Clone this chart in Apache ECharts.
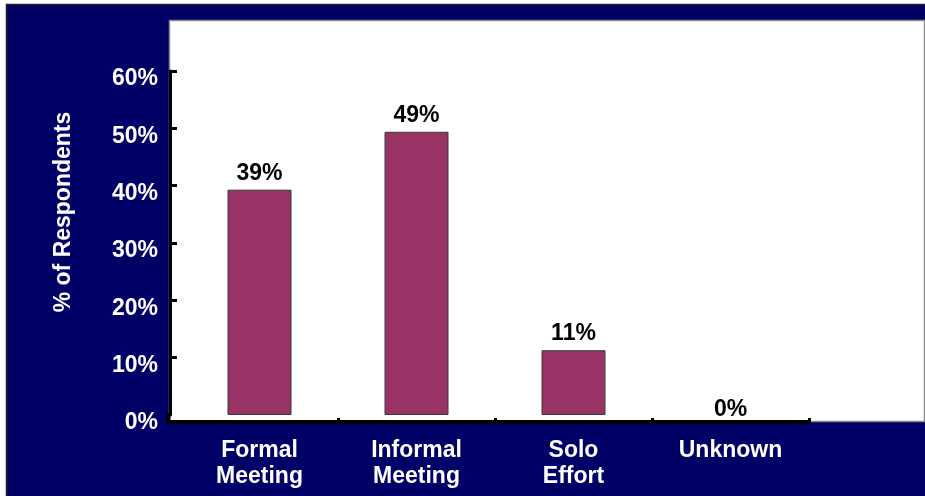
<!DOCTYPE html>
<html>
<head>
<meta charset="utf-8">
<script src="https://cdn.jsdelivr.net/npm/echarts@6/dist/echarts.min.js"></script>
<style>
  html, body { margin: 0; padding: 0; background: #fff; }
  #chart { width: 925px; height: 496px; }
</style>
</head>
<body>
<div id="chart"></div>
<script>
// values
var categories = ['Formal\nMeeting', 'Informal\nMeeting', 'Solo\nEffort', 'Unknown'];
var respondents = [39.3, 49.4, 11.3, 0];
var yTicks = [10, 20, 30, 40, 50, 60];

var FONT = 'Liberation Sans, Arial, sans-serif';
var NAVY = '#000066';

function buildOption() {
    var barData = respondents.map(function (v) {
        // the zero bar has no outline and its label sits down on the axis line
        if (v === 0) {
            return { value: v, itemStyle: { borderWidth: 0 }, label: { offset: [0, 11] } };
        }
        return v;
    });

    return {
        backgroundColor: '#fff',
        animation: false,
        grid: { left: 181, right: 116, top: 71, bottom: 81 },
        graphic: [
            {
                type: 'rect', z: -10, silent: true,
                shape: { x: 6.5, y: 4.5, width: 930, height: 500 },
                style: { fill: NAVY, stroke: '#222', lineWidth: 1.5 }
            },
            {
                type: 'rect', z: -9, silent: true,
                shape: { x: 169.5, y: 20.5, width: 755, height: 401 },
                style: { fill: '#fff', stroke: '#8a8a8a', lineWidth: 1.5 }
            },
            {
                // corner where the two axis lines meet
                type: 'polyline', z: 5, silent: true,
                shape: { points: [[168.5, 413], [168.5, 422], [182, 422]] },
                style: { stroke: '#000', lineWidth: 4, fill: null }
            },
            {
                type: 'text', z: 5, silent: true,
                x: 64, y: 212, rotation: Math.PI / 2,
                style: {
                    text: '% of Respondents', fill: '#fff',
                    font: 'bold 23px ' + FONT,
                    align: 'center', verticalAlign: 'middle'
                }
            }
        ],
        xAxis: {
            type: 'category',
            data: categories,
            offset: 7,
            axisLine: { show: true, onZero: false, lineStyle: { color: '#000', width: 4 } },
            axisTick: {
                show: true, inside: true, length: 4,
                interval: function (index) { return index !== 0; },
                lineStyle: { color: '#000', width: 3 }
            },
            axisLabel: {
                color: '#fff', fontWeight: 'bold', fontSize: 23,
                fontFamily: FONT, lineHeight: 26, margin: 16
            },
            splitLine: { show: false }
        },
        yAxis: {
            type: 'value',
            min: 0, max: 60, interval: 10,
            offset: 11,
            axisLine: { show: true, lineStyle: { color: '#000', width: 3 } },
            axisTick: {
                show: true, inside: true, length: 7,
                customValues: yTicks,
                lineStyle: { color: '#000', width: 3 }
            },
            axisLabel: {
                color: '#fff', fontWeight: 'bold', fontSize: 23,
                fontFamily: FONT, margin: 12,
                verticalAlign: 'top', lineHeight: 16,
                formatter: '{value}%'
            },
            splitLine: { show: false }
        },
        series: [{
            type: 'bar',
            data: barData,
            barWidth: 64,
            itemStyle: { color: '#993366', borderColor: '#3a3a3a', borderWidth: 1 },
            label: {
                show: true, position: 'top', distance: 5,
                color: '#000', fontWeight: 'bold', fontSize: 23, fontFamily: FONT,
                formatter: function (p) { return Math.round(p.value) + '%'; }
            }
        }]
    };
}

var chart = echarts.init(document.getElementById('chart'));
chart.setOption(buildOption());
</script>
</body>
</html>
